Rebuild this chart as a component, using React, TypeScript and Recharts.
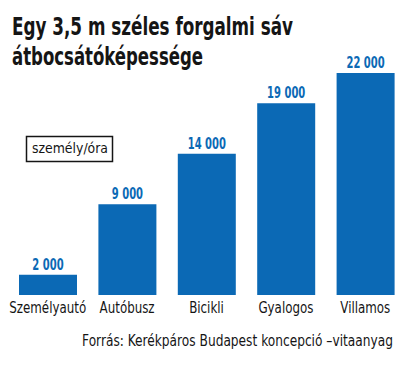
import { BarChart, Bar, XAxis, YAxis, LabelList } from "recharts";

const categories = ["Személyautó", "Autóbusz", "Bicikli", "Gyalogos", "Villamos"];
const capacity = [2000, 9000, 14000, 19000, 22000];

const data = categories.map((name, i) => ({ name, value: capacity[i] }));

const BLUE = "#0b69b5";
const INK = "#151515";
const FONT = "'DejaVu Sans Condensed', 'Liberation Sans', sans-serif";

const fmt = (v: number) => String(v).replace(/\B(?=(\d{3})+(?!\d))/g, " ");

function CategoryTick({ x, y, payload }: any) {
  return (
    <text
      transform={`translate(${x},${y + 16}) scale(0.88,1)`}
      textAnchor="middle"
      fill={INK}
      fontSize={15}
      fontFamily={FONT}
    >
      {payload.value}
    </text>
  );
}

function ValueLabel({ x, y, width, value }: any) {
  return (
    <text
      transform={`translate(${x + width / 2},${y - 5}) scale(0.74,1)`}
      textAnchor="middle"
      fill={BLUE}
      fontSize={15}
      fontWeight={700}
      fontFamily={FONT}
    >
      {fmt(Number(value))}
    </text>
  );
}

export default function App() {
  return (
    <div style={{ position: "absolute", left: 0, top: 0, width: 410, height: 365, background: "#fff" }}>
      <svg width={410} height={365} style={{ position: "absolute", left: 0, top: 0 }} fontFamily={FONT}>
        <text x={12} y={35} fontSize={24} fontWeight={700} fill={INK} textLength={281} lengthAdjust="spacingAndGlyphs">
          Egy 3,5 m széles forgalmi sáv
        </text>
        <text x={12} y={65} fontSize={24} fontWeight={700} fill={INK} textLength={191} lengthAdjust="spacingAndGlyphs">
          átbocsátóképessége
        </text>
        <rect x={26.5} y={136.5} width={86} height={25} fill="#fff" stroke={INK} strokeWidth={1.5} />
        <text x={32} y={153} fontSize={14} fill={INK} textLength={76} lengthAdjust="spacingAndGlyphs">
          személy/óra
        </text>
        <text transform="translate(393,346) scale(0.905,1)" textAnchor="end" fontSize={15} fill={INK}>
          Forrás: Kerékpáros Budapest koncepció –vitaanyag
        </text>
      </svg>
      <div style={{ position: "absolute", left: 0, top: 0 }}>
        <BarChart width={410} height={365} data={data} margin={{ top: 73, right: 5, bottom: 40, left: 8 }}>
          <YAxis hide domain={[0, 22000]} />
          <XAxis dataKey="name" axisLine={false} tickLine={false} tickSize={0} height={30} interval={0} tick={<CategoryTick />} />
          <Bar dataKey="value" fill={BLUE} barSize={58} isAnimationActive={false}>
            <LabelList dataKey="value" content={<ValueLabel />} />
          </Bar>
        </BarChart>
      </div>
    </div>
  );
}
